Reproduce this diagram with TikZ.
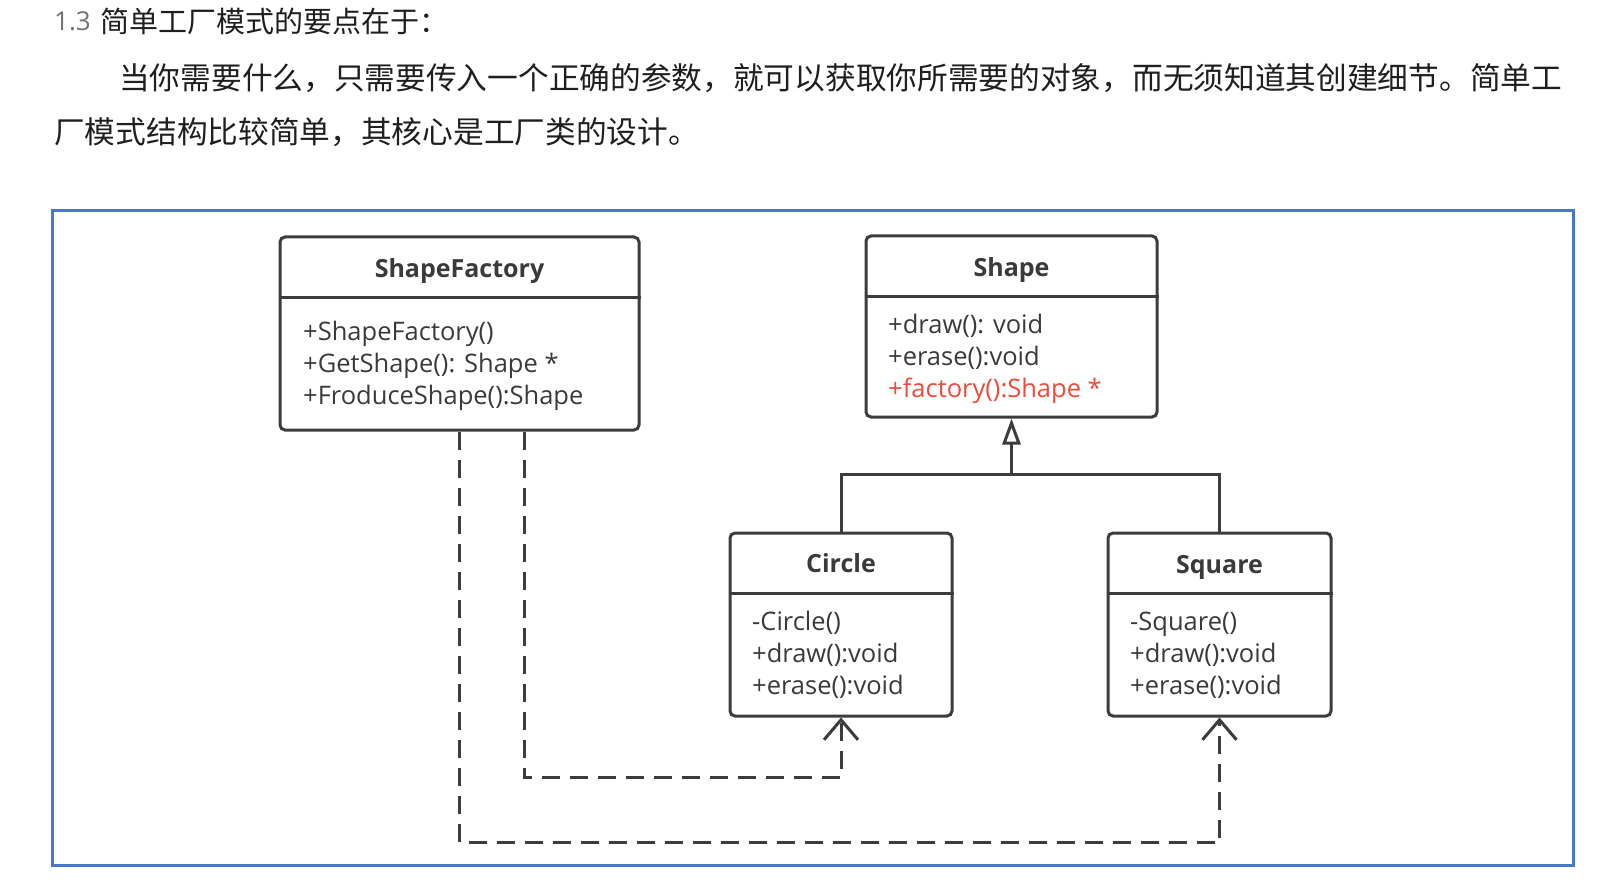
\documentclass[tikz,border=0pt]{standalone}
\usepackage{fontspec}
\setmainfont{Open Sans}
\newfontfamily\cjk{Noto Sans CJK SC}
\usetikzlibrary{arrows.meta}
\definecolor{umlline}{HTML}{3C3C3C}
\definecolor{umltext}{HTML}{3A3A3A}
\definecolor{framecol}{HTML}{4A78C8}
\definecolor{redtext}{HTML}{F04A3A}
\tikzset{
  x=1pt, y=-1pt,
  classbox/.style={draw=umlline, line width=3pt, rounded corners=5pt, inner sep=0pt},
  divider/.style={draw=umlline, line width=3pt},
  title/.style={font=\fontsize{25}{30}\selectfont\bfseries, text=umltext, inner sep=0pt, anchor=base},
  member/.style={font=\fontsize{25.5}{30}\selectfont, text=umltext, inner sep=0pt, anchor=base west},
  frame/.style={draw=framecol, line width=3pt, inner sep=0pt},
  inherit/.style={draw=umlline, line width=3pt, -{Triangle[open, length=26pt, width=18pt, line width=3pt]}},
  conn/.style={draw=umlline, line width=3pt},
  dep/.style={draw=umlline, line width=3pt, dash pattern=on 18pt off 10pt, -{Straight Barb[length=20pt, width=34pt, line width=3pt]}},
  cjktext/.style={font=\cjk\fontsize{30.7}{36}\selectfont, text=black!88, inner sep=0pt, anchor=west},
}
\begin{document}
\begin{tikzpicture}
\path[use as bounding box, fill=white] (0,0) rectangle (1622,885);

% header text
\node[font=\fontsize{26}{30}\selectfont, text=black!55, inner sep=0pt, anchor=west] (num) at (54,21) {1.3};
\node[cjktext, font=\cjk\fontsize{29}{34}\selectfont] (t1) at (100,21) {简单工厂模式的要点在于：};
\node[cjktext] (t2) at (119,78) {当你需要什么，只需要传入一个正确的参数，就可以获取你所需要的对象，而无须知道其创建细节。简单工};
\node[cjktext] (t3) at (54,132) {厂模式结构比较简单，其核心是工厂类的设计。};

% frame
\node[frame, minimum width=1521pt, minimum height=654pt] (frame) at (812.5,538) {};

% ShapeFactory
\node[classbox, minimum width=359pt, minimum height=193pt] (sf) at (459.5,333.5) {};
\draw[divider] (sf.west |- 0,298) -- (sf.east |- 0,298);
\node[title] (sft) at (459.5,278) {ShapeFactory};
\node[member] (sf1) at (303,340) {+ShapeFactory()};
\node[member] (sf2) at (303,372) {+GetShape(): Shape *};
\node[member] (sf3) at (303,404) {+FroduceShape():Shape};

% Shape
\node[classbox, minimum width=291pt, minimum height=181pt] (shape) at (1011.5,326.5) {};
\draw[divider] (shape.west |- 0,297) -- (shape.east |- 0,297);
\node[title] (shapet) at (1011.5,277) {Shape};
\node[member] (sh1) at (888,333) {+draw(): void};
\node[member] (sh2) at (888,365) {+erase():void};
\node[member, text=redtext] (sh3) at (888,397) {+factory():Shape *};

% Circle
\node[classbox, minimum width=222pt, minimum height=183pt] (circle) at (841,624.5) {};
\draw[divider] (circle.west |- 0,593) -- (circle.east |- 0,593);
\node[title] (circlet) at (841,572) {Circle};
\node[member] (c1) at (752,630) {-Circle()};
\node[member] (c2) at (752,662) {+draw():void};
\node[member] (c3) at (752,694) {+erase():void};

% Square
\node[classbox, minimum width=223pt, minimum height=183pt] (square) at (1219.5,624.5) {};
\draw[divider] (square.west |- 0,593) -- (square.east |- 0,593);
\node[title] (squaret) at (1219.5,573) {Square};
\node[member] (s1) at (1130,630) {-Square()};
\node[member] (s2) at (1130,662) {+draw():void};
\node[member] (s3) at (1130,694) {+erase():void};

% inheritance
\coordinate (jn) at (1011.5,474);
\draw[conn] (circle.north) |- (jn) -| (square.north);
\draw[inherit] (jn) -- (shape.south);

% dependencies
\draw[dep] ([xshift=64.5pt]sf.south) -- ++(0,346) -| (circle.south);
\draw[dep] (sf.south) -- ++(0,411) -| (square.south);
\end{tikzpicture}
\end{document}
